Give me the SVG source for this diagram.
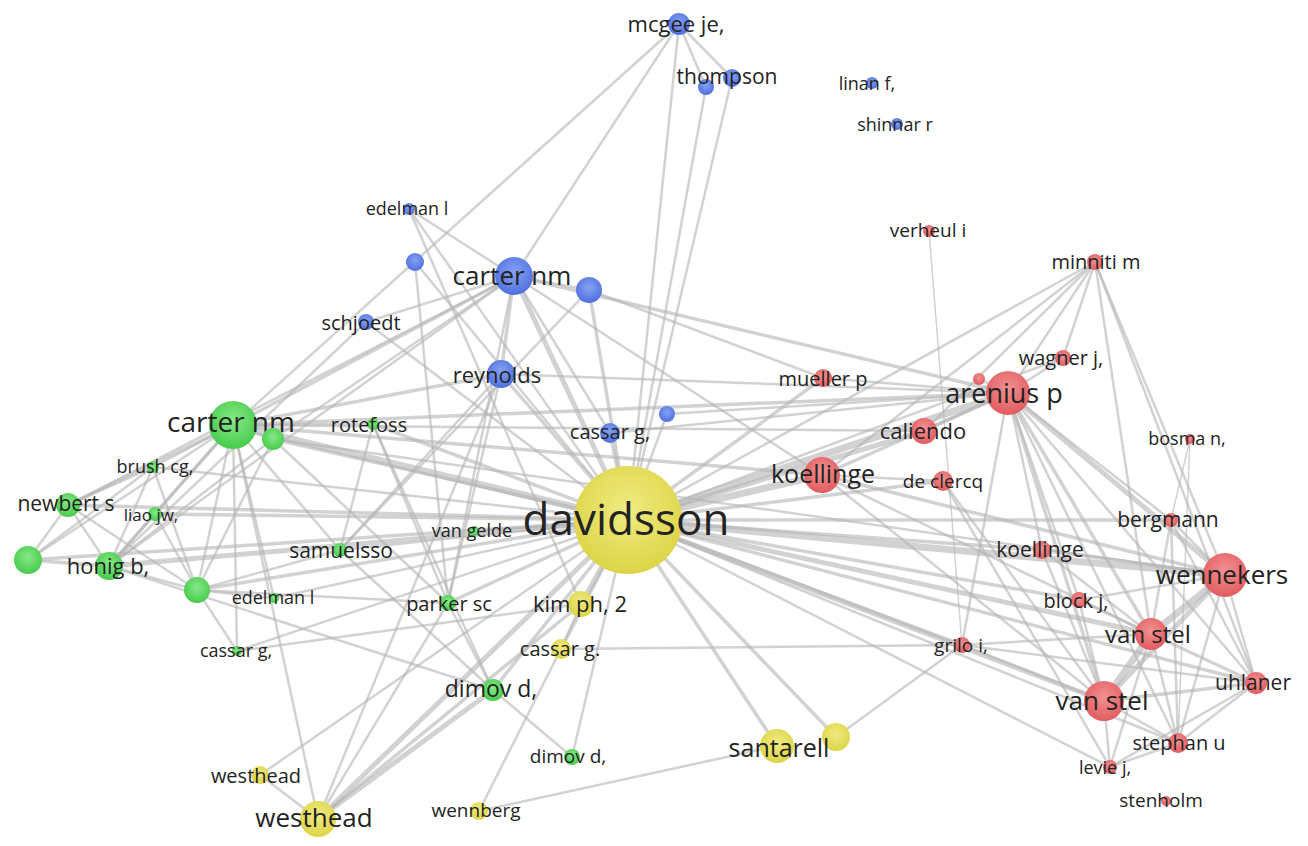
<svg xmlns="http://www.w3.org/2000/svg" width="1308" height="846" viewBox="0 0 1308 846">
<defs>
<radialGradient id="gB" cx="50%" cy="40%" r="60%"><stop offset="0" stop-color="#86a2f2"/><stop offset="1" stop-color="#4e6fe0"/></radialGradient>
<radialGradient id="gR" cx="50%" cy="40%" r="60%"><stop offset="0" stop-color="#f29292"/><stop offset="1" stop-color="#e15b5f"/></radialGradient>
<radialGradient id="gG" cx="50%" cy="40%" r="60%"><stop offset="0" stop-color="#86e886"/><stop offset="1" stop-color="#46cb4b"/></radialGradient>
<radialGradient id="gY" cx="50%" cy="40%" r="60%"><stop offset="0" stop-color="#f0eb82"/><stop offset="1" stop-color="#dcd446"/></radialGradient>
</defs>
<style>
line{stroke:#b4b4b4;stroke-opacity:0.6;stroke-linecap:round}
.e1{stroke-width:1.5}.e2{stroke-width:2.5}.e3{stroke-width:3.5}.e4{stroke-width:5}.e5{stroke-width:7}
.b{fill:url(#gB)}.r{fill:url(#gR)}.g{fill:url(#gG)}.y{fill:url(#gY)}
text{font-family:"Open Sans","Noto Sans",sans-serif;fill:#232323;text-anchor:middle;dominant-baseline:central}
</style>
<rect width="1308" height="846" fill="#ffffff"/>
<g id="connectors">
<line class="e2" x1="679" y1="24" x2="233" y2="425"/>
<line class="e2" x1="679" y1="24" x2="514" y2="276"/>
<line class="e2" x1="679" y1="24" x2="628" y2="520"/>
<line class="e2" x1="679" y1="24" x2="706" y2="87"/>
<line class="e2" x1="679" y1="24" x2="732" y2="78"/>
<line class="e2" x1="706" y1="87" x2="628" y2="520"/>
<line class="e2" x1="732" y1="78" x2="628" y2="520"/>
<line class="e2" x1="514" y1="276" x2="366" y2="322"/>
<line class="e2" x1="514" y1="276" x2="409" y2="209"/>
<line class="e2" x1="514" y1="276" x2="589" y2="290"/>
<line class="e2" x1="514" y1="276" x2="273" y2="439"/>
<line class="e2" x1="514" y1="276" x2="68" y2="505"/>
<line class="e2" x1="514" y1="276" x2="109" y2="566"/>
<line class="e2" x1="514" y1="276" x2="448" y2="603"/>
<line class="e2" x1="514" y1="276" x2="610" y2="433"/>
<line class="e2" x1="514" y1="276" x2="822" y2="475"/>
<line class="e2" x1="589" y1="290" x2="823" y2="378"/>
<line class="e2" x1="589" y1="290" x2="340" y2="550"/>
<line class="e2" x1="409" y1="209" x2="628" y2="520"/>
<line class="e2" x1="409" y1="209" x2="581" y2="604"/>
<line class="e2" x1="415" y1="262" x2="448" y2="603"/>
<line class="e2" x1="415" y1="262" x2="628" y2="520"/>
<line class="e2" x1="366" y1="322" x2="628" y2="520"/>
<line class="e2" x1="366" y1="322" x2="109" y2="566"/>
<line class="e2" x1="501" y1="374" x2="448" y2="603"/>
<line class="e2" x1="501" y1="374" x2="340" y2="550"/>
<line class="e2" x1="501" y1="374" x2="1008" y2="393"/>
<line class="e2" x1="610" y1="433" x2="1008" y2="393"/>
<line class="e2" x1="667" y1="414" x2="628" y2="520"/>
<line class="e2" x1="667" y1="414" x2="1008" y2="393"/>
<line class="e2" x1="233" y1="425" x2="153" y2="467"/>
<line class="e2" x1="233" y1="425" x2="155" y2="514"/>
<line class="e2" x1="233" y1="425" x2="197" y2="590"/>
<line class="e2" x1="233" y1="425" x2="28" y2="560"/>
<line class="e2" x1="233" y1="425" x2="373" y2="424"/>
<line class="e2" x1="233" y1="425" x2="340" y2="550"/>
<line class="e2" x1="233" y1="425" x2="924" y2="431"/>
<line class="e2" x1="233" y1="425" x2="274" y2="598"/>
<line class="e2" x1="233" y1="425" x2="237" y2="651"/>
<line class="e2" x1="273" y1="439" x2="109" y2="566"/>
<line class="e2" x1="273" y1="439" x2="197" y2="590"/>
<line class="e2" x1="273" y1="439" x2="1225" y2="575"/>
<line class="e2" x1="273" y1="439" x2="448" y2="603"/>
<line class="e2" x1="68" y1="505" x2="153" y2="467"/>
<line class="e2" x1="68" y1="505" x2="28" y2="560"/>
<line class="e2" x1="68" y1="505" x2="109" y2="566"/>
<line class="e2" x1="68" y1="505" x2="197" y2="590"/>
<line class="e2" x1="28" y1="560" x2="153" y2="467"/>
<line class="e2" x1="109" y1="566" x2="197" y2="590"/>
<line class="e2" x1="109" y1="566" x2="155" y2="514"/>
<line class="e2" x1="109" y1="566" x2="153" y2="467"/>
<line class="e2" x1="109" y1="566" x2="493" y2="690"/>
<line class="e2" x1="197" y1="590" x2="153" y2="467"/>
<line class="e2" x1="197" y1="590" x2="155" y2="514"/>
<line class="e2" x1="197" y1="590" x2="340" y2="550"/>
<line class="e2" x1="197" y1="590" x2="448" y2="603"/>
<line class="e2" x1="197" y1="590" x2="237" y2="651"/>
<line class="e2" x1="153" y1="467" x2="628" y2="520"/>
<line class="e2" x1="373" y1="424" x2="448" y2="603"/>
<line class="e2" x1="373" y1="424" x2="493" y2="690"/>
<line class="e2" x1="373" y1="424" x2="340" y2="550"/>
<line class="e2" x1="340" y1="550" x2="628" y2="520"/>
<line class="e2" x1="340" y1="550" x2="493" y2="690"/>
<line class="e2" x1="474" y1="531" x2="628" y2="520"/>
<line class="e2" x1="448" y1="603" x2="493" y2="690"/>
<line class="e2" x1="448" y1="603" x2="318" y2="819"/>
<line class="e2" x1="237" y1="651" x2="628" y2="520"/>
<line class="e2" x1="237" y1="651" x2="581" y2="604"/>
<line class="e2" x1="493" y1="690" x2="572" y2="757"/>
<line class="e2" x1="572" y1="757" x2="628" y2="520"/>
<line class="e2" x1="274" y1="598" x2="628" y2="520"/>
<line class="e2" x1="274" y1="598" x2="197" y2="590"/>
<line class="e2" x1="581" y1="604" x2="561" y2="649"/>
<line class="e2" x1="561" y1="649" x2="479" y2="811"/>
<line class="e2" x1="561" y1="649" x2="962" y2="645"/>
<line class="e2" x1="836" y1="737" x2="962" y2="645"/>
<line class="e2" x1="479" y1="811" x2="777" y2="746"/>
<line class="e2" x1="260" y1="775" x2="318" y2="819"/>
<line class="e2" x1="260" y1="775" x2="628" y2="520"/>
<line class="e2" x1="318" y1="819" x2="233" y2="425"/>
<line class="e2" x1="318" y1="819" x2="501" y2="374"/>
<line class="e2" x1="628" y1="520" x2="1178" y2="743"/>
<line class="e2" x1="628" y1="520" x2="1110" y2="767"/>
<line class="e2" x1="628" y1="520" x2="1095" y2="262"/>
<line class="e2" x1="628" y1="520" x2="1063" y2="358"/>
<line class="e2" x1="1008" y1="393" x2="1095" y2="262"/>
<line class="e2" x1="1008" y1="393" x2="1063" y2="358"/>
<line class="e2" x1="1008" y1="393" x2="979" y2="379"/>
<line class="e2" x1="1008" y1="393" x2="823" y2="378"/>
<line class="e2" x1="1008" y1="393" x2="1171" y2="520"/>
<line class="e2" x1="1008" y1="393" x2="1042" y2="550"/>
<line class="e2" x1="1008" y1="393" x2="1079" y2="600"/>
<line class="e2" x1="1008" y1="393" x2="962" y2="645"/>
<line class="e2" x1="1008" y1="393" x2="1256" y2="683"/>
<line class="e2" x1="1008" y1="393" x2="1178" y2="743"/>
<line class="e2" x1="1095" y1="262" x2="822" y2="475"/>
<line class="e2" x1="1095" y1="262" x2="924" y2="431"/>
<line class="e2" x1="1095" y1="262" x2="1063" y2="358"/>
<line class="e2" x1="1095" y1="262" x2="1151" y2="634"/>
<line class="e2" x1="1095" y1="262" x2="1256" y2="683"/>
<line class="e2" x1="1095" y1="262" x2="1225" y2="575"/>
<line class="e2" x1="1225" y1="575" x2="1256" y2="683"/>
<line class="e2" x1="1225" y1="575" x2="1171" y2="520"/>
<line class="e2" x1="1225" y1="575" x2="1079" y2="600"/>
<line class="e2" x1="1225" y1="575" x2="1178" y2="743"/>
<line class="e2" x1="1151" y1="634" x2="1079" y2="600"/>
<line class="e2" x1="1151" y1="634" x2="1042" y2="550"/>
<line class="e2" x1="1151" y1="634" x2="822" y2="475"/>
<line class="e2" x1="1151" y1="634" x2="962" y2="645"/>
<line class="e2" x1="1151" y1="634" x2="1178" y2="743"/>
<line class="e2" x1="1151" y1="634" x2="1110" y2="767"/>
<line class="e2" x1="1151" y1="634" x2="1171" y2="520"/>
<line class="e2" x1="1104" y1="701" x2="1178" y2="743"/>
<line class="e2" x1="1104" y1="701" x2="1110" y2="767"/>
<line class="e2" x1="1104" y1="701" x2="822" y2="475"/>
<line class="e2" x1="1104" y1="701" x2="1042" y2="550"/>
<line class="e2" x1="1104" y1="701" x2="962" y2="645"/>
<line class="e2" x1="1104" y1="701" x2="1079" y2="600"/>
<line class="e2" x1="1104" y1="701" x2="943" y2="481"/>
<line class="e2" x1="1256" y1="683" x2="1178" y2="743"/>
<line class="e2" x1="1256" y1="683" x2="1110" y2="767"/>
<line class="e2" x1="1256" y1="683" x2="1171" y2="520"/>
<line class="e2" x1="1178" y1="743" x2="1110" y2="767"/>
<line class="e2" x1="1178" y1="743" x2="1171" y2="520"/>
<line class="e2" x1="822" y1="475" x2="943" y2="481"/>
<line class="e2" x1="943" y1="481" x2="1110" y2="767"/>
<line class="e2" x1="962" y1="645" x2="1256" y2="683"/>
<line class="e1" x1="929" y1="231" x2="962" y2="645"/>
<line class="e1" x1="1190" y1="439" x2="1171" y2="520"/>
<line class="e1" x1="1190" y1="439" x2="1178" y2="743"/>
<line class="e3" x1="514" y1="276" x2="501" y2="374"/>
<line class="e3" x1="514" y1="276" x2="233" y2="425"/>
<line class="e3" x1="514" y1="276" x2="1008" y2="393"/>
<line class="e3" x1="589" y1="290" x2="628" y2="520"/>
<line class="e3" x1="501" y1="374" x2="628" y2="520"/>
<line class="e3" x1="501" y1="374" x2="233" y2="425"/>
<line class="e3" x1="610" y1="433" x2="628" y2="520"/>
<line class="e3" x1="233" y1="425" x2="273" y2="439"/>
<line class="e3" x1="233" y1="425" x2="68" y2="505"/>
<line class="e3" x1="233" y1="425" x2="109" y2="566"/>
<line class="e3" x1="233" y1="425" x2="1008" y2="393"/>
<line class="e3" x1="233" y1="425" x2="822" y2="475"/>
<line class="e3" x1="273" y1="439" x2="628" y2="520"/>
<line class="e3" x1="68" y1="505" x2="628" y2="520"/>
<line class="e3" x1="28" y1="560" x2="109" y2="566"/>
<line class="e3" x1="28" y1="560" x2="628" y2="520"/>
<line class="e3" x1="197" y1="590" x2="628" y2="520"/>
<line class="e3" x1="155" y1="514" x2="628" y2="520"/>
<line class="e3" x1="373" y1="424" x2="628" y2="520"/>
<line class="e3" x1="448" y1="603" x2="628" y2="520"/>
<line class="e3" x1="493" y1="690" x2="628" y2="520"/>
<line class="e3" x1="581" y1="604" x2="318" y2="819"/>
<line class="e3" x1="561" y1="649" x2="628" y2="520"/>
<line class="e3" x1="777" y1="746" x2="628" y2="520"/>
<line class="e3" x1="836" y1="737" x2="628" y2="520"/>
<line class="e3" x1="628" y1="520" x2="823" y2="378"/>
<line class="e3" x1="628" y1="520" x2="943" y2="481"/>
<line class="e3" x1="628" y1="520" x2="1256" y2="683"/>
<line class="e3" x1="628" y1="520" x2="1042" y2="550"/>
<line class="e3" x1="628" y1="520" x2="1079" y2="600"/>
<line class="e3" x1="628" y1="520" x2="1171" y2="520"/>
<line class="e3" x1="628" y1="520" x2="962" y2="645"/>
<line class="e3" x1="1008" y1="393" x2="822" y2="475"/>
<line class="e3" x1="1008" y1="393" x2="924" y2="431"/>
<line class="e3" x1="1008" y1="393" x2="1151" y2="634"/>
<line class="e3" x1="1008" y1="393" x2="1104" y2="701"/>
<line class="e3" x1="1225" y1="575" x2="1042" y2="550"/>
<line class="e3" x1="1225" y1="575" x2="822" y2="475"/>
<line class="e3" x1="1151" y1="634" x2="1256" y2="683"/>
<line class="e3" x1="1104" y1="701" x2="1256" y2="683"/>
<line class="e4" x1="514" y1="276" x2="628" y2="520"/>
<line class="e4" x1="109" y1="566" x2="628" y2="520"/>
<line class="e4" x1="581" y1="604" x2="628" y2="520"/>
<line class="e4" x1="318" y1="819" x2="628" y2="520"/>
<line class="e4" x1="318" y1="819" x2="493" y2="690"/>
<line class="e4" x1="628" y1="520" x2="924" y2="431"/>
<line class="e4" x1="628" y1="520" x2="1151" y2="634"/>
<line class="e4" x1="628" y1="520" x2="1104" y2="701"/>
<line class="e4" x1="1008" y1="393" x2="1225" y2="575"/>
<line class="e4" x1="1225" y1="575" x2="1104" y2="701"/>
<line class="e5" x1="233" y1="425" x2="628" y2="520"/>
<line class="e5" x1="628" y1="520" x2="1008" y2="393"/>
<line class="e5" x1="628" y1="520" x2="822" y2="475"/>
<line class="e5" x1="628" y1="520" x2="1225" y2="575"/>
<line class="e5" x1="1225" y1="575" x2="1151" y2="634"/>
<line class="e5" x1="1151" y1="634" x2="1104" y2="701"/>
</g>
<g id="n-mcgee"><circle class="b" cx="679" cy="24" r="11"/><text x="676" y="23" font-size="22">mcgee je,</text></g>
<g id="n-thompson"><circle class="b" cx="706" cy="87" r="8"/><circle class="b" cx="732" cy="78" r="9"/><text x="727" y="76" font-size="21">thompson</text></g>
<g id="n-linan"><circle class="b" cx="872" cy="83" r="6"/><text x="867" y="83" font-size="18">linan f,</text></g>
<g id="n-shinnar"><circle class="b" cx="897" cy="124" r="6"/><text x="895" y="124" font-size="18">shinnar r</text></g>
<g id="n-edelman-b"><circle class="b" cx="409" cy="209" r="6"/><text x="407" y="208" font-size="18">edelman l</text></g>
<g id="n-blue-a"><circle class="b" cx="415" cy="262" r="9"/></g>
<g id="n-carter-b"><circle class="b" cx="514" cy="276" r="19"/><text x="512" y="275" font-size="26">carter nm</text></g>
<g id="n-blue-b"><circle class="b" cx="589" cy="290" r="13"/></g>
<g id="n-schjoedt"><circle class="b" cx="366" cy="322" r="8"/><text x="361" y="322" font-size="20">schjoedt</text></g>
<g id="n-reynolds"><circle class="b" cx="501" cy="374" r="14"/><text x="497" y="374" font-size="22">reynolds</text></g>
<g id="n-cassar-b"><circle class="b" cx="610" cy="433" r="10"/><text x="610" y="431" font-size="20">cassar g,</text></g>
<g id="n-blue-c"><circle class="b" cx="667" cy="414" r="8"/></g>
<g id="n-verheul"><circle class="r" cx="929" cy="231" r="6"/><text x="928" y="230" font-size="19">verheul i</text></g>
<g id="n-minniti"><circle class="r" cx="1095" cy="262" r="8"/><text x="1096" y="261" font-size="20">minniti m</text></g>
<g id="n-wagner"><circle class="r" cx="1063" cy="358" r="8"/><text x="1061" y="357" font-size="20">wagner j,</text></g>
<g id="n-red-a"><circle class="r" cx="979" cy="379" r="6"/></g>
<g id="n-arenius"><circle class="r" cx="1008" cy="393" r="22"/><text x="1004" y="392" font-size="27">arenius p</text></g>
<g id="n-mueller"><circle class="r" cx="823" cy="378" r="9"/><text x="823" y="378" font-size="20">mueller p</text></g>
<g id="n-caliendo"><circle class="r" cx="924" cy="431" r="13"/><text x="923" y="430" font-size="22">caliendo</text></g>
<g id="n-koellinge"><circle class="r" cx="822" cy="475" r="18"/><text x="823" y="473" font-size="25">koellinge</text></g>
<g id="n-declercq"><circle class="r" cx="943" cy="481" r="10"/><text x="943" y="481" font-size="19">de clercq</text></g>
<g id="n-bosma"><circle class="r" cx="1190" cy="439" r="5"/><text x="1187" y="438" font-size="18">bosma n,</text></g>
<g id="n-bergmann"><circle class="r" cx="1171" cy="520" r="7"/><text x="1168" y="519" font-size="21">bergmann</text></g>
<g id="n-koellinge2"><circle class="r" cx="1042" cy="550" r="9"/><text x="1040" y="549" font-size="21">koellinge</text></g>
<g id="n-wennekers"><circle class="r" cx="1225" cy="575" r="22"/><text x="1222" y="574" font-size="26">wennekers</text></g>
<g id="n-block"><circle class="r" cx="1079" cy="600" r="8"/><text x="1076" y="600" font-size="20">block j,</text></g>
<g id="n-vanstel1"><circle class="r" cx="1151" cy="634" r="16"/><text x="1148" y="633" font-size="24">van stel</text></g>
<g id="n-grilo"><circle class="r" cx="962" cy="645" r="8"/><text x="961" y="645" font-size="19">grilo i,</text></g>
<g id="n-uhlaner"><circle class="r" cx="1256" cy="683" r="11"/><text x="1253" y="682" font-size="21">uhlaner</text></g>
<g id="n-vanstel2"><circle class="r" cx="1104" cy="701" r="20"/><text x="1102" y="700" font-size="26">van stel</text></g>
<g id="n-stephan"><circle class="r" cx="1178" cy="743" r="10"/><text x="1179" y="742" font-size="20">stephan u</text></g>
<g id="n-levie"><circle class="r" cx="1110" cy="767" r="7"/><text x="1105" y="767" font-size="18">levie j,</text></g>
<g id="n-stenholm"><circle class="r" cx="1166" cy="801" r="5"/><text x="1161" y="800" font-size="19">stenholm</text></g>
<g id="n-carter-g"><circle class="g" cx="233" cy="425" r="24"/><text x="231" y="421" font-size="28">carter nm</text></g>
<g id="n-green-a"><circle class="g" cx="273" cy="439" r="11"/></g>
<g id="n-rotefoss"><circle class="g" cx="373" cy="424" r="6"/><text x="369" y="424" font-size="20">rotefoss</text></g>
<g id="n-brush"><circle class="g" cx="153" cy="467" r="6"/><text x="155" y="466" font-size="18">brush cg,</text></g>
<g id="n-newbert"><circle class="g" cx="68" cy="505" r="12"/><text x="66" y="503" font-size="21">newbert s</text></g>
<g id="n-liao"><circle class="g" cx="155" cy="514" r="7"/><text x="151" y="514" font-size="17">liao jw,</text></g>
<g id="n-green-b"><circle class="g" cx="28" cy="560" r="14"/></g>
<g id="n-honig"><circle class="g" cx="109" cy="566" r="14"/><text x="108" y="565" font-size="22">honig b,</text></g>
<g id="n-green-c"><circle class="g" cx="197" cy="590" r="13"/></g>
<g id="n-edelman-g"><circle class="g" cx="274" cy="598" r="5"/><text x="273" y="597" font-size="18">edelman l</text></g>
<g id="n-samuelsso"><circle class="g" cx="340" cy="550" r="7"/><text x="341" y="550" font-size="21">samuelsso</text></g>
<g id="n-vangelde"><circle class="g" cx="474" cy="531" r="5"/><text x="472" y="530" font-size="18">van gelde</text></g>
<g id="n-parker"><circle class="g" cx="448" cy="603" r="8"/><text x="449" y="603" font-size="20">parker sc</text></g>
<g id="n-cassar-g"><circle class="g" cx="237" cy="651" r="5"/><text x="236" y="650" font-size="18">cassar g,</text></g>
<g id="n-dimov1"><circle class="g" cx="493" cy="690" r="11"/><text x="491" y="688" font-size="23">dimov d,</text></g>
<g id="n-dimov2"><circle class="g" cx="572" cy="757" r="8"/><text x="568" y="756" font-size="19">dimov d,</text></g>
<g id="n-davidsson"><circle class="y" cx="628" cy="520" r="54"/><text x="626" y="518" font-size="44">davidsson</text></g>
<g id="n-kimph"><circle class="y" cx="581" cy="604" r="13"/><text x="580" y="603" font-size="22">kim ph, 2</text></g>
<g id="n-cassar-y"><circle class="y" cx="561" cy="649" r="10"/><text x="560" y="648" font-size="20">cassar g.</text></g>
<g id="n-santarell"><circle class="y" cx="777" cy="746" r="17"/><circle class="y" cx="836" cy="737" r="14"/><text x="779" y="747" font-size="25">santarell</text></g>
<g id="n-westhead1"><circle class="y" cx="260" cy="775" r="9"/><text x="256" y="775" font-size="20">westhead</text></g>
<g id="n-westhead2"><circle class="y" cx="318" cy="819" r="18"/><text x="314" y="817" font-size="26">westhead</text></g>
<g id="n-wennberg"><circle class="y" cx="479" cy="811" r="9"/><text x="476" y="810" font-size="19">wennberg</text></g>
</svg>
